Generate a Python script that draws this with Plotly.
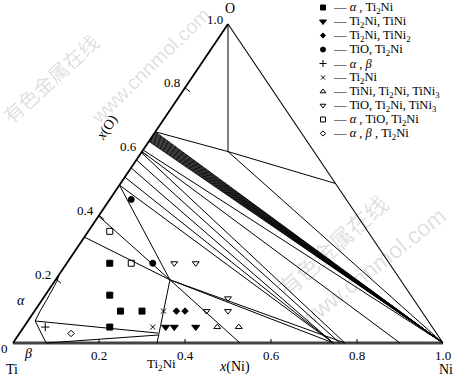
import plotly.graph_objects as go

# ---------------- data (compositions: x(Ni), x(O)) ----------------
NiTiO3 = (0.20, 0.60)
TiO2 = (0.0, 0.662)
NiO = (0.50, 0.50)
Ni = (1.0, 0.0)
O = (0.0, 1.0)
Q = (0.266, 0.198)          # Ti4Ni2O-type corner
alpha_pt = (0.017, 0.069)
beta_pt = (0.077, 0.0)
ti2ni_low = (0.322, 0.031)
ti2ni_low2 = (0.325, 0.025)

# Magneli band: left-edge O fractions of lines running to Ni
band_O = [0.662, 0.660, 0.658, 0.656, 0.654, 0.652, 0.650, 0.648, 0.646, 0.644,
          0.642, 0.640, 0.638, 0.636, 0.634, 0.632]

# other tie lines (start, end)
tie_lines = [
    (O, NiTiO3),
    (TiO2, NiTiO3),
    (NiTiO3, NiO),
    (NiTiO3, Ni),
    ((0.0, 0.605), Ni),
    ((0.0, 0.600), (0.900, 0.0)),
    ((0.0, 0.597), (0.772, 0.0)),
    ((0.0, 0.574), (0.760, 0.0)),
    ((0.0, 0.549), (0.745, 0.0)),
    ((0.0, 0.520), (0.745, 0.0)),
    ((0.0, 0.495), (0.745, 0.0)),
    ((0.0, 0.495), Q),
    ((0.0, 0.398), Q),
    ((0.0, 0.332), Q),
    (Q, (0.335, 0.0)),
    (Q, (0.528, 0.0)),
    (Q, (0.745, 0.0)),
    (Q, (0.772, 0.0)),
    (alpha_pt, beta_pt),
    (alpha_pt, ti2ni_low),
    (beta_pt, ti2ni_low2),
]

# alpha solubility curve
alpha_curve_ni = [0.017, 0.013, 0.011, 0.008, 0.005, 0.0]
alpha_curve_o = [0.069, 0.100, 0.132, 0.166, 0.194, 0.216]

# experimental alloys
a_ti2ni_ni = [0.10, 0.15, 0.20, 0.25, 0.20]
a_ti2ni_o = [0.25, 0.15, 0.10, 0.10, 0.05]
ti2ni_tini_ni = [0.33, 0.35, 0.40]
ti2ni_tini_o = [0.05, 0.05, 0.05]
ti2ni_tini2_ni = [0.33, 0.35]
ti2ni_tini2_o = [0.10, 0.10]
tio_ti2ni_ni = [0.05, 0.20]
tio_ti2ni_o = [0.45, 0.25]
a_b_ni = [0.05]
a_b_o = [0.05]
ti2ni_ni = [0.30, 0.30]
ti2ni_o = [0.10, 0.05]
tini3_ni = [0.45, 0.50]
tini3_o = [0.05, 0.05]
tio_tini3_ni = [0.25, 0.30, 0.43, 0.40, 0.45]
tio_tini3_o = [0.25, 0.25, 0.14, 0.10, 0.10]
a_tio_ni = [0.05, 0.15]
a_tio_o = [0.35, 0.25]
a_b_ti2ni_ni = [0.12]
a_b_ti2ni_o = [0.03]

series = [
    ("<i>α</i> , Ti<sub>2</sub>Ni", a_ti2ni_ni, a_ti2ni_o, "square", 6),
    ("Ti<sub>2</sub>Ni, TiNi", ti2ni_tini_ni, ti2ni_tini_o, "triangle-down", 7),
    ("Ti<sub>2</sub>Ni, TiNi<sub>2</sub>", ti2ni_tini2_ni, ti2ni_tini2_o, "diamond", 5),
    ("TiO, Ti<sub>2</sub>Ni", tio_ti2ni_ni, tio_ti2ni_o, "circle", 6),
    ("<i>α</i> , <i>β</i>", a_b_ni, a_b_o, "cross-thin", 6),
    ("Ti<sub>2</sub>Ni", ti2ni_ni, ti2ni_o, "x-thin", 5),
    ("TiNi, Ti<sub>2</sub>Ni, TiNi<sub>3</sub>", tini3_ni, tini3_o, "triangle-up-open", 6),
    ("TiO, Ti<sub>2</sub>Ni, TiNi<sub>3</sub>", tio_tini3_ni, tio_tini3_o, "triangle-down-open", 6),
    ("<i>α</i> , TiO, Ti<sub>2</sub>Ni", a_tio_ni, a_tio_o, "square-open", 6),
    ("<i>α</i> , <i>β</i> , Ti<sub>2</sub>Ni", a_b_ti2ni_ni, a_b_ti2ni_o, "diamond-open", 5),
]

ticks = [0.2, 0.4, 0.6, 0.8]
tick_labels = ["0.2", "0.4", "0.6", "0.8"]

# ---------------- helpers ----------------
def cart(ni, o):
    return ni + o / 2.0, o

W, H = 457, 377
X0, XW, Y0, YH = 13, 430, 343, 319   # pixel frame of the triangle

def px(pxx, pyy):
    return (pxx - X0) / XW, (Y0 - pyy) / YH

FONT = "Liberation Serif"
fig = go.Figure()

def add_line(pts, width=1.0, color="black"):
    xs, ys = [], []
    for seg in pts:
        for p in seg:
            x, y = cart(*p)
            xs.append(x); ys.append(y)
        xs.append(None); ys.append(None)
    fig.add_trace(go.Scatter(x=xs, y=ys, mode="lines", line=dict(color=color, width=width),
                             hoverinfo="skip", showlegend=False))

# watermark first (under everything)
ann = []
wm = "rgba(0,0,0,0.14)"
ann_wm = [
    (50, 78, "有色金属在线", 20, -42),
    (150, 66, "www.cnnmol.com", 20, -44),
    (332, 245, "有色金属在线", 23, -42),
    (372, 268, "www.cnnmol.com", 23, -38),
]
for a, b, t, s, g in ann_wm:
    x, y = px(a, b)
    family = "Noto Sans CJK SC" if "有" in t else "Liberation Sans"
    ann.append(dict(x=x, y=y, text=t, textangle=g, showarrow=False,
                    font=dict(family=family, size=s, color=wm)))

# triangle edges
add_line([[(0, 0), (1, 0)]], width=3, color="#444")
add_line([[(0, 0), (0, 1)]], width=1.8)
add_line([[(1, 0), (0, 1)]], width=1.1)

# tie lines
add_line([((0.0, o), Ni) for o in band_O], width=0.9)
add_line(tie_lines, width=1.0)

# alpha curve
cx, cy = zip(*[cart(n, o) for n, o in zip(alpha_curve_ni, alpha_curve_o)])
fig.add_trace(go.Scatter(x=cx, y=cy, mode="lines", line=dict(color="black", width=1, shape="spline"),
                         hoverinfo="skip", showlegend=False))

# ticks
xs, ys = [], []
for t in ticks:
    x, y = cart(t, 0)
    xs += [x, x, None]; ys += [0, 4 / YH, None]
    x, y = cart(0, t)
    xs += [x, x + 5 / XW, None]; ys += [y, y - 4 / YH, None]
fig.add_trace(go.Scatter(x=xs, y=ys, mode="lines", line=dict(color="black", width=1),
                         hoverinfo="skip", showlegend=False))

# data points
for name, ni, o, sym, size in series:
    x = [cart(a, b)[0] for a, b in zip(ni, o)]
    y = [cart(a, b)[1] for a, b in zip(ni, o)]
    fig.add_trace(go.Scatter(x=x, y=y, mode="markers", name=name,
                             marker=dict(symbol=sym, size=size, color="black",
                                         line=dict(color="black", width=1)),
                             showlegend=False))

# manual legend (top right)
for i, (name, ni, o, sym, size) in enumerate(series):
    ly = 7.5 + 14.0 * i
    mx, my = px(323, ly)
    fig.add_trace(go.Scatter(x=[mx], y=[my], mode="markers",
                             marker=dict(symbol=sym, size=size - 1, color="black",
                                         line=dict(color="black", width=1)),
                             hoverinfo="skip", showlegend=False))
    tx, ty = px(331, ly)
    ann.append(dict(x=tx, y=ty, text="— " + name, xanchor="left", yanchor="middle",
                    showarrow=False, font=dict(family=FONT, size=12.5, color="black")))

# axis tick labels
for t, lab in zip(ticks + [1.0], tick_labels + ["1.0"]):
    x, y = cart(t, 0)
    ann.append(dict(x=x, y=y, text=lab, xanchor="center", yanchor="top", yshift=-3,
                    showarrow=False, font=dict(family=FONT, size=13, color="black")))
    x, y = cart(0, t)
    ann.append(dict(x=x, y=y, text=lab, xanchor="right", yanchor="middle", xshift=-3, yshift=5,
                    showarrow=False, font=dict(family=FONT, size=13, color="black")))

def label(pxx, pyy, text, size=13, angle=0, color="black"):
    x, y = px(pxx, pyy)
    ann.append(dict(x=x, y=y, text=text, xanchor="center", yanchor="middle", textangle=angle,
                    showarrow=False, font=dict(family=FONT, size=size, color=color)))

label(4, 348, "0")
label(12, 369, "Ti", 14)
label(446, 369, "Ni", 14)
label(230, 8, "O", 14)
label(161, 364, "Ti<sub>2</sub>Ni", 13)
label(234, 367, "<i>x</i>(Ni)", 14)
label(107, 128, "<i>x</i>(O)", 14, angle=-56)
label(21, 300, "<i>α</i>", 14)
label(28, 353, "<i>β</i>", 14)

x_lo, y_lo = px(0, H)
x_hi, y_hi = px(W, 0)
fig.update_layout(
    width=W, height=H, autosize=False,
    margin=dict(l=0, r=0, t=0, b=0),
    paper_bgcolor="white", plot_bgcolor="white",
    xaxis=dict(range=[x_lo, x_hi], visible=False, fixedrange=True),
    yaxis=dict(range=[y_lo, y_hi], visible=False, fixedrange=True),
    annotations=ann,
    showlegend=False,
)
fig.write_html("out.html", config={"displayModeBar": False, "staticPlot": True},
               post_script="document.body.style.margin='0';document.body.style.overflow='hidden';")
